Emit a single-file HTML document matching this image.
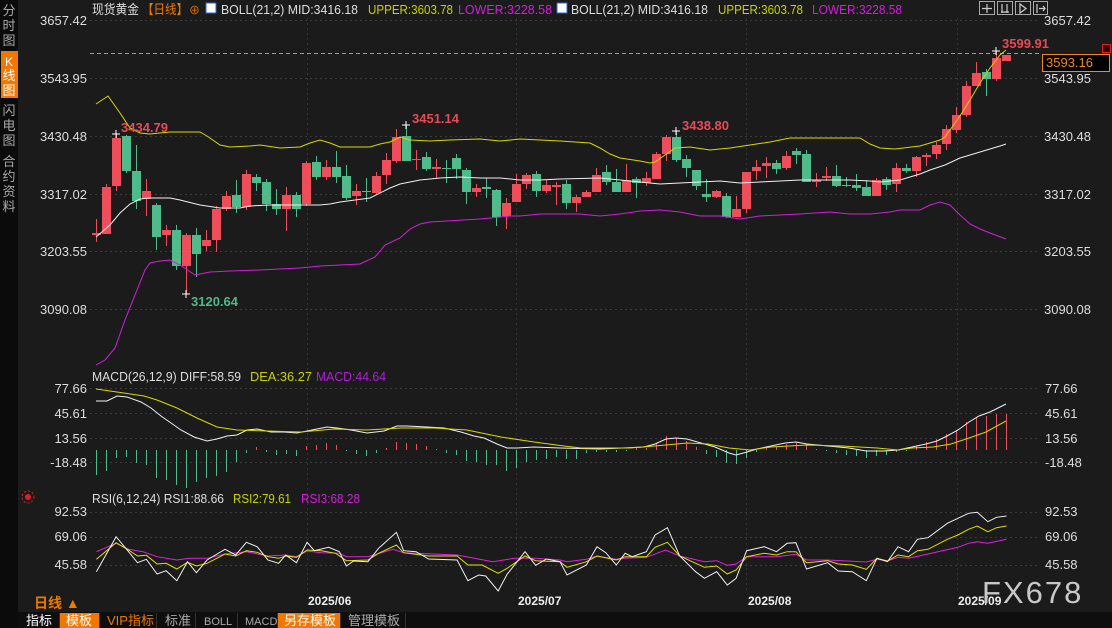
<!DOCTYPE html>
<html><head><meta charset="utf-8">
<style>
html,body{margin:0;padding:0;background:#1b1b1b;width:1112px;height:628px;overflow:hidden;font-family:"Liberation Sans","Noto Sans CJK SC",sans-serif}
svg{position:absolute;left:0;top:0}
text{font-family:"Liberation Sans","Noto Sans CJK SC",sans-serif}
</style></head><body>
<svg id="s" width="1112" height="628" xmlns="http://www.w3.org/2000/svg">
<rect x="0" y="0" width="1112" height="628" fill="#1b1b1b"/>
<rect x="0" y="0" width="18" height="628" fill="#0b0b0b"/>
<rect x="1" y="51" width="17" height="47" fill="#f07800"/>
<g font-size="13" fill="#a8a8a8" text-anchor="middle">
<text x="9" y="15">分</text><text x="9" y="30">时</text><text x="9" y="45">图</text>
<text x="9" y="66" fill="#fff" font-size="12">K</text><text x="9" y="80" fill="#fff">线</text><text x="9" y="95" fill="#fff">图</text>
<text x="9" y="115">闪</text><text x="9" y="130">电</text><text x="9" y="145">图</text>
<text x="9" y="166">合</text><text x="9" y="181">约</text><text x="9" y="196">资</text><text x="9" y="211">料</text>
</g>
<g id="grid"></g>
<g id="plot"></g>
<!-- headers -->
<g font-size="13" lengthAdjust="spacingAndGlyphs">
<text x="92" y="14" fill="#ddd" textLength="47" lengthAdjust="spacingAndGlyphs">现货黄金</text>
<text x="142" y="14" fill="#f07800" textLength="46" lengthAdjust="spacingAndGlyphs">【日线】</text>
<text x="189" y="14" fill="#f07800" font-size="11">⊕</text>
<rect x="206" y="3" width="10" height="10" fill="#fff" stroke="#36c" stroke-width="1"/>
<text x="221" y="14" fill="#ddd" textLength="137" lengthAdjust="spacingAndGlyphs">BOLL(21,2) MID:3416.18</text>
<text x="368" y="14" fill="#c8d400" textLength="85" lengthAdjust="spacingAndGlyphs">UPPER:3603.78</text>
<text x="458" y="14" fill="#d020d8" textLength="94" lengthAdjust="spacingAndGlyphs">LOWER:3228.58</text>
<rect x="557" y="3" width="10" height="10" fill="#fff" stroke="#36c" stroke-width="1"/>
<text x="571" y="14" fill="#ddd" textLength="137" lengthAdjust="spacingAndGlyphs">BOLL(21,2) MID:3416.18</text>
<text x="718" y="14" fill="#c8d400" textLength="85" lengthAdjust="spacingAndGlyphs">UPPER:3603.78</text>
<text x="812" y="14" fill="#d020d8" textLength="90" lengthAdjust="spacingAndGlyphs">LOWER:3228.58</text>
<text x="92" y="381" fill="#ddd" textLength="149" lengthAdjust="spacingAndGlyphs">MACD(26,12,9) DIFF:58.59</text>
<text x="250" y="381" fill="#c8d400" textLength="62" lengthAdjust="spacingAndGlyphs">DEA:36.27</text>
<text x="316" y="381" fill="#b020d8" textLength="70" lengthAdjust="spacingAndGlyphs">MACD:44.64</text>
<text x="92" y="503" fill="#ddd" textLength="132" lengthAdjust="spacingAndGlyphs">RSI(6,12,24) RSI1:88.66</text>
<text x="233" y="503" fill="#c8d400" textLength="58" lengthAdjust="spacingAndGlyphs">RSI2:79.61</text>
<text x="301" y="503" fill="#d020d8" textLength="59" lengthAdjust="spacingAndGlyphs">RSI3:68.28</text>
</g>
<!-- top right icons -->
<g fill="none" stroke="#aaa" stroke-width="1">
<rect x="979.5" y="1.5" width="15" height="13"/><rect x="997.5" y="1.5" width="15" height="13"/><rect x="1015.5" y="1.5" width="15" height="13"/><rect x="1033.5" y="1.5" width="14" height="13"/>
</g>
<g fill="none" stroke="#ccc" stroke-width="1.2">
<path d="M987 4v9M982 8.5h10"/><path d="M1002 4v9M1007 4v9M1001 12h8"/><path d="M1020 4v9l6 -4.5z"/><path d="M1037 4v9M1039 8.5h6M1043 6l2 2.5-2 2.5"/>
</g>
<!-- price labels -->
<g font-size="13" fill="#dddddd" text-anchor="end">
<text x="87" y="25">3657.42</text><text x="87" y="83">3543.95</text><text x="87" y="141">3430.48</text><text x="87" y="199">3317.02</text><text x="87" y="256">3203.55</text><text x="87" y="314">3090.08</text>
<text x="87" y="393">77.66</text><text x="87" y="418">45.61</text><text x="87" y="443">13.56</text><text x="87" y="467">-18.48</text>
<text x="87" y="516">92.53</text><text x="87" y="541">69.06</text><text x="87" y="569">45.58</text>
</g>
<g font-size="13" fill="#dddddd">
<text x="1044" y="25">3657.42</text><text x="1044" y="83">3543.95</text><text x="1044" y="141">3430.48</text><text x="1044" y="199">3317.02</text><text x="1044" y="256">3203.55</text><text x="1044" y="314">3090.08</text>
<text x="1045" y="393">77.66</text><text x="1045" y="418">45.61</text><text x="1045" y="443">13.56</text><text x="1045" y="467">-18.48</text>
<text x="1045" y="516">92.53</text><text x="1045" y="541">69.06</text><text x="1045" y="569">45.58</text>
</g>
<rect x="1042.5" y="54.5" width="67" height="17" fill="#000" stroke="#f08a20"/>
<text x="1046" y="67" font-size="13" fill="#f08a20">3593.16</text>
<rect x="1102.5" y="44.5" width="8" height="8" fill="#300" stroke="#e02020"/>
<g font-size="13" font-weight="bold">
<text x="121" y="132" fill="#e84a55">3434.79</text>
<text x="412" y="123" fill="#e84a55">3451.14</text>
<text x="682" y="130" fill="#e84a55">3438.80</text>
<text x="1002" y="48" fill="#e84a55">3599.91</text>
<text x="191" y="306" fill="#50b888">3120.64</text>
</g>
<g font-size="12" font-weight="bold" fill="#eee">
<text x="308" y="605">2025/06</text><text x="518" y="605">2025/07</text><text x="748" y="605">2025/08</text><text x="958" y="605">2025/09</text>
</g>
<text x="982" y="603" font-size="31" fill="#c8c8c8" letter-spacing="2">FX678</text>
<circle cx="28" cy="497" r="3" fill="#e02020"/><circle cx="28" cy="497" r="6" fill="none" stroke="#e02020" stroke-dasharray="2 2"/>
<text x="34" y="608" font-size="14" font-weight="bold" fill="#f07800">日线 ▲</text>
<rect x="18" y="612" width="1094" height="16" fill="#0e0e0e"/>
<rect x="60" y="613" width="39" height="15" fill="#f07800"/>
<rect x="278" y="613" width="62" height="15" fill="#f07800"/>
<g font-size="13">
<text x="26" y="625" fill="#fff">指标</text>
<text x="66" y="625" fill="#fff">模板</text>
<text x="107" y="625" fill="#f07800">VIP指标</text>
<text x="165" y="625" fill="#aaa">标准</text>
<text x="204" y="625" fill="#aaa" font-size="11" font-family="Liberation Mono">BOLL</text>
<text x="245" y="625" fill="#aaa" font-size="11" font-family="Liberation Mono">MACD</text>
<text x="284" y="625" fill="#fff">另存模板</text>
<text x="348" y="625" fill="#aaa">管理模板</text>
</g>
<g stroke="#333" stroke-width="1"><path d="M59.5 613v15M99.5 613v15M156.5 613v15M195.5 613v15M237.5 613v15M277.5 613v15M340.5 613v15M405.5 613v15"/></g>
</svg>
<script>
var NS='http://www.w3.org/2000/svg';
function el(p,t,a){var e=document.createElementNS(NS,t);for(var k in a)e.setAttribute(k,a[k]);document.getElementById(p).appendChild(e);return e;}
[20,78,136,194,251,309,388,413,438,462,512,537,565].forEach(function(y){el('grid','line',{x1:90,x2:1040,y1:y+.5,y2:y+.5,stroke:'#3a3a3a','stroke-dasharray':'2 3'});});
[307,516,746,957].forEach(function(x){el('grid','line',{x1:x+.5,x2:x+.5,y1:18,y2:590,stroke:'#333','stroke-dasharray':'2 3'});});
el('grid','line',{x1:90,x2:1040,y1:53.5,y2:53.5,stroke:'#f08a20','stroke-dasharray':'4 3'});
var C=[['r',233,235,219,242],['r',187,234,184,234],['r',138,186,134,191],['g',136,171,135,173],['g',171,201,145,209],['r',191,199,179,216],['g',205,237,203,250],['r',230,235,225,246],['g',230,266,225,270],['r',235,266,233,294],['g',235,254,228,277],['r',240,246,230,251],['r',209,240,206,252],['r',196,209,191,211],['g',195,207,180,213],['r',174,207,170,210],['g',177,183,174,191],['g',182,204,179,211],['g',204,209,189,215],['r',195,209,187,231],['g',195,209,192,217],['r',163,204,161,206],['g',162,177,156,180],['r',167,177,160,180],['g',167,177,151,183],['g',176,198,165,200],['r',191,196,184,205],['g',191,192,178,202],['r',176,193,172,195],['r',160,175,153,184],['r',137,161,129,163],['g',136,161,125,161],['r',159,160,150,170],['g',157,169,152,171],['r',167,169,159,179],['g',168,169,160,183],['g',158,169,154,179],['g',170,192,168,204],['r',188,192,184,197],['g',187,189,178,198],['g',190,217,189,226],['r',203,216,198,229],['r',184,202,174,202],['r',175,184,173,189],['g',174,191,171,197],['r',185,191,180,193],['r',185,187,182,205],['g',184,203,180,209],['r',197,203,195,212],['r',192,197,190,197],['r',175,192,168,192],['g',172,182,165,185],['g',182,192,169,192],['r',180,192,164,192],['g',179,183,177,198],['r',178,183,172,186],['r',154,179,152,179],['r',137,154,135,161],['g',137,160,131,162],['g',159,168,155,177],['g',170,186,170,190],['g',194,197,179,202],['r',191,197,190,198],['g',196,217,193,218],['r',209,217,196,217],['r',172,209,172,213],['r',167,171,160,180],['r',163,166,157,178],['g',163,169,160,174],['r',156,168,151,170],['g',151,155,148,164],['g',154,182,150,182],['r',180,182,173,187],['r',176,178,167,181],['g',176,186,165,187],['g',185,186,177,187],['g',185,188,174,191],['g',187,196,180,196],['r',180,196,178,196],['g',179,185,177,190],['r',168,184,163,192],['g',168,171,164,173],['r',157,171,156,177],['r',155,157,153,166],['r',145,154,142,159],['r',129,144,125,150],['r',115,130,107,133],['r',86,115,81,117],['r',73,86,62,86],['g',72,79,69,96],['r',58,79,51,81],['r',55,61,55,61]];
var RED='#ee4d5a',GRN='#4fba8a';
function pl(pts,col,w){el('plot','polyline',{points:pts.map(function(p){return p[0]+','+p[1]}).join(' '),fill:'none',stroke:col,'stroke-width':w||1});}
function P(a){var r=[];for(var i=0;i<a.length;i+=2)r.push([a[i],a[i+1]]);return r;}
C.forEach(function(c,i){var x=96+i*10;var col=c[0]=='r'?RED:GRN;
el('plot','line',{x1:x+.5,x2:x+.5,y1:c[3],y2:c[4],stroke:col});
el('plot','rect',{x:x-4,y:c[1],width:9,height:Math.max(1,c[2]-c[1]),fill:col});});
pl(P([96,104,108,96,120,113,130,128,140,133,150,134,160,133,170,132,200,132,207,136,220,145,230,147,250,146,260,145,280,148,300,147,310,143,320,140,330,143,340,147,370,147,380,144,390,142,400,137,410,140,430,141,450,140,480,139,500,141,520,139,540,140,560,141,590,143,600,148,610,154,620,158,640,161,650,163,655,162,665,155,675,148,690,147,710,150,730,148,750,145,770,142,790,138,810,138,860,138,870,144,880,148,895,149,920,146,930,143,940,140,945,137,950,130,960,116,970,100,980,83,990,68,1000,55,1006,50]),'#d8d800');
pl(P([96,237,110,225,120,213,130,204,140,199,150,198,170,198,180,200,200,205,220,208,240,208,250,206,270,205,320,205,330,204,340,202,370,198,390,188,400,184,420,180,440,178,460,177,480,178,500,178,520,180,540,180,560,179,600,178,620,180,640,182,660,184,680,183,700,182,720,181,740,183,760,182,780,181,800,180,850,180,870,181,880,182,900,180,910,177,920,174,930,170,945,165,960,158,980,152,1000,146,1006,144]),'#f0f0f0');
pl(P([96,365,105,360,115,348,125,320,135,295,145,270,150,263,160,261,170,260,180,265,195,275,210,272,230,271,260,270,280,269,300,268,320,266,340,265,360,264,375,257,385,245,400,238,410,229,420,224,430,222,480,219,510,216,520,216,540,214,580,214,600,216,620,214,640,211,660,210,680,212,700,216,720,216,740,219,760,216,800,214,830,212,850,214,870,214,890,212,900,210,920,210,930,205,940,202,950,205,960,215,970,224,980,229,990,233,1006,239]),'#d020d8');
[[116,134],[406,125],[676,131],[996,51],[186,294]].forEach(function(p){el('plot','path',{d:'M'+(p[0]-4)+' '+p[1]+'h8M'+p[0]+' '+(p[1]-4)+'v8',stroke:'#fff'});});
var H=[475,471,458,457,463,465,478,480,485,488,482,478,476,472,462,453,447,452,455,454,456,446,445,443,445,451,454,456,453,448,442,443,444,446,449,453,455,461,462,465,465,471,468,462,460,459,457,459,459,453,452,452,452,451,448,448,443,436,438,441,447,454,457,463,464,458,452,448,447,444,442,445,449,451,453,455,456,458,456,455,452,451,446,442,439,434,430,422,417,416,414,414];
H.forEach(function(y,i){var x=96+i*10+.5;el('plot','line',{x1:x,x2:x,y1:450,y2:y,stroke:y<450?RED:GRN});});
pl(P([96,401,107,401,117,396,127,397,141,402,151,408,161,416,171,423,181,430,194,437,207,441,217,439,227,436,237,435,247,430,257,429,271,432,284,432,297,433,307,431,327,427,337,428,351,430,367,433,384,431,397,426,407,426,427,427,444,428,461,432,474,436,484,438,497,444,507,448,517,448,534,447,560,448,600,449,644,447,655,444,666,439,676,438,687,439,701,443,715,447,729,453,736,455,747,452,757,449,771,446,785,443,796,442,807,444,828,446,849,448,866,451,884,451,898,450,912,447,926,444,937,441,947,436,958,430,969,422,979,416,990,412,1006,404]),'#f0f0f0');
pl(P([96,389,117,392,144,396,157,400,177,408,197,418,217,427,237,430,267,431,301,432,334,429,367,430,401,428,434,428,467,430,501,437,534,442,564,446,581,448,630,448,666,445,687,443,708,444,729,448,750,450,771,447,807,445,842,446,877,448,898,450,912,448,933,447,951,444,969,438,986,432,1006,421]),'#d8d800');
function R(a,ox,oy,sx){var r=[];for(var i=0;i<a.length;i+=2)r.push([(ox+a[i]/sx).toFixed(1),(oy+a[i+1]/3).toFixed(1)]);return r;}
var W1=R([270,275,325,170,360,215,385,248,410,238,440,282,465,272,495,302,525,245,550,278,580,240,630,208,660,225,690,187,720,200,750,240,780,250,800,225,830,248,860,187,880,212,920,202,950,215,970,258,990,243,1030,245,1060,205,1110,157,1130,212,1165,215,1200,237,1280,240,1310,302,1340,285,1360,288,1395,333,1420,283,1470,215,1500,256,1530,237],0,480,2.8).concat(R([0,215,20,255,75,225,105,170,130,188,160,225,185,190,205,200,245,185,270,135,305,113,340,198,385,245,410,265,445,245,475,285,500,265,530,182,580,170,615,185,645,160,670,158,700,237,760,218,790,243,830,245,870,272,900,205,930,215,960,170,990,185,1015,148,1045,143,1100,100,1130,85,1160,70,1185,67,1215,95,1240,82,1268,78],560,490,2.84));
var Y1=R([270,238,325,188,360,210,385,228,410,226,440,252,465,250,495,267,525,247,550,258,580,250,630,222,660,228,690,212,720,217,750,230,780,235,800,228,830,232,860,210,900,212,940,220,970,242,1030,240,1060,220,1110,195,1130,218,1200,228,1280,228,1310,255,1350,255,1395,280,1420,265,1470,228,1500,242],0,480,2.8).concat(R([0,215,20,232,75,215,105,198,160,210,185,200,245,200,270,172,305,157,340,198,410,232,445,228,475,252,500,240,530,200,580,190,615,195,645,185,670,185,700,218,760,212,790,222,830,225,870,238,900,205,930,213,960,195,990,200,1015,182,1045,178,1100,148,1130,135,1160,118,1185,108,1215,125,1240,113,1268,108],560,490,2.84));
var M1=R([270,215,325,190,360,208,400,215,440,230,495,240,530,235,580,235,630,222,690,215,750,228,800,225,830,230,860,213,900,218,950,220,970,230,1030,230,1100,208,1130,218,1280,225,1380,245,1440,235,1500,235],0,480,2.8).concat(R([0,210,20,215,75,208,105,198,160,208,185,205,245,202,300,180,340,198,410,215,445,212,475,226,500,222,530,200,615,200,670,193,700,210,760,210,870,216,900,208,930,213,960,202,990,205,1045,192,1130,172,1160,160,1185,155,1215,160,1268,148],560,490,2.84));
pl(M1,'#e020e0');pl(Y1,'#e0e000');pl(W1,'#f0f0f0');
</script>
</body></html>
